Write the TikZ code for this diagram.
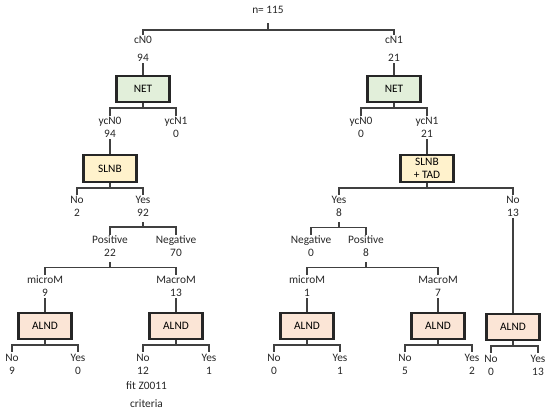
\documentclass[tikz,border=0pt]{standalone}
\usepackage{fontspec}
\setmainfont{Carlito}
\usepackage{tikz}
\usetikzlibrary{positioning}
\usepackage{xcolor}
\definecolor{netgreen}{HTML}{E2EFDA}
\definecolor{slnbyellow}{HTML}{FFF2CC}
\definecolor{alndpink}{HTML}{FBE5D6}
\definecolor{linegray}{HTML}{404040}

\begin{document}
\begin{tikzpicture}[
    x=0.03cm, y=-0.03cm,
    font=\fontsize{9.7}{11.2}\selectfont,
    count/.style={align=center, inner sep=1pt, text=black!85},
    box/.style={draw=black!85, line width=1.9pt, rectangle, align=center, minimum width=1.59cm, minimum height=0.78cm, inner sep=1pt},
    netbox/.style={box, fill=netgreen},
    slnbbox/.style={box, fill=slnbyellow, minimum height=0.81cm},
    alndbox/.style={box, fill=alndpink},
    link/.style={draw=linegray, line width=1.1pt}
  ]
    \useasboundingbox (0,0) rectangle (550,418);

    \node (root) [count] at (268,10) {n= 115};
    \node (cn0) [count] at (143,49) {cN0\\[4.2pt]94};
    \node (cn1) [count] at (394,49) {cN1\\[4.2pt]21};

    \node (net0) [netbox] at (143,89) {NET};
    \node (net1) [netbox] at (394,89) {NET};

    \node (ycn00) [count] at (110,127.5) {ycN0\\94};
    \node (ycn01) [count] at (176,127.5) {ycN1\\0};
    \node (ycn10) [count] at (361,127.5) {ycN0\\0};
    \node (ycn11) [count] at (427,127.5) {ycN1\\21};

    \node (slnb) [slnbbox] at (110,168.5) {SLNB};
    \node (slnbtad) [slnbbox] at (427,168.5) {SLNB\\+ TAD};

    \node (sno) [count] at (77,206.5) {No\\2};
    \node (syes) [count] at (143,206.5) {Yes\\92};
    \node (tyes) [count] at (339,206.5) {Yes\\8};
    \node (tno) [count] at (513,206.5) {No\\13};

    \node (spos) [count] at (110,246.5) {Positive\\22};
    \node (sneg) [count] at (176,246.5) {Negative\\70};
    \node (tneg) [count] at (311,246.5) {Negative\\0};
    \node (tpos) [count] at (366,246.5) {Positive\\8};

    \node (smicro) [count] at (45,286.5) {microM\\9};
    \node (smacro) [count] at (176,286.5) {MacroM\\13};
    \node (tmicro) [count] at (307,286.5) {microM\\1};
    \node (tmacro) [count] at (438,286.5) {MacroM\\7};

    \node (alnd1) [alndbox] at (45,326) {ALND};
    \node (alnd2) [alndbox] at (176,326) {ALND};
    \node (alnd3) [alndbox] at (307,326) {ALND};
    \node (alnd4) [alndbox] at (438,326) {ALND};
    \node (alnd5) [alndbox] at (513,327) {ALND};

    \node (no1) [count] at (12,364) {No\\9};
    \node (yes1) [count] at (78,364) {Yes\\0};
    \node (no2) [count] at (143,364) {No\\12};
    \node (yes2) [count] at (209,364) {Yes\\1};
    \node (no3) [count] at (274,364) {No\\0};
    \node (yes3) [count] at (340,364) {Yes\\1};
    \node (no4) [count] at (405,364) {No\\5};
    \node (yes4) [count] at (472,364) {Yes\\2};
    \node (no5) [count] at (491,365) {No\\0};
    \node (yes5) [count] at (538,365) {Yes\\13};

    \node (fit) [count, below=4pt of no2, xshift=3pt] {fit Z0011\\[4.2pt]criteria};

    \draw [link] (root.south) ++(0,8) -- ++(0,7) -| (cn0.north);
    \draw [link] (root.south) ++(0,15) -| (cn1.north);
    \draw [link] (cn0) -- (net0);
    \draw [link] (cn1) -- (net1);

    \draw [link] (net0.south) -- ++(0,5) -| (ycn00.north);
    \draw [link] (net0.south) ++(0,5) -| (ycn01.north);
    \draw [link] (net1.south) -- ++(0,5) -| (ycn10.north);
    \draw [link] (net1.south) ++(0,5) -| (ycn11.north);
    \draw [link] (ycn00) -- (slnb);
    \draw [link] (ycn11) -- (slnbtad);

    \draw [link] (slnb.south) -- ++(0,5) -| (sno.north);
    \draw [link] (slnb.south) ++(0,5) -| (syes.north);
    \draw [link] (slnbtad.south) -- ++(0,5) -| (tyes.north);
    \draw [link] (slnbtad.south) ++(0,5) -| (tno.north);

    \draw [link] (syes.south) ++(0,4) -- ++(0,5) -| (spos.north);
    \draw [link] (syes.south) ++(0,9) -| (sneg.north);
    \draw [link] (tyes.south) ++(0,4) -- ++(0,5) -| (tneg.north);
    \draw [link] (tyes.south) ++(0,9) -| (tpos.north);

    \draw [link] (spos.south) ++(0,4) -- ++(0,5) -| (smicro.north);
    \draw [link] (spos.south) ++(0,9) -| (smacro.north);
    \draw [link] (tpos.south) ++(0,4) -- ++(0,5) -| (tmicro.north);
    \draw [link] (tpos.south) ++(0,9) -| (tmacro.north);

    \draw [link] (smicro) -- (alnd1);
    \draw [link] (smacro) -- (alnd2);
    \draw [link] (tmicro) -- (alnd3);
    \draw [link] (tmacro) -- (alnd4);
    \draw [link] (tno) -- (alnd5);

    \draw [link] (alnd1.south) -- ++(0,5) -| (no1.north);
    \draw [link] (alnd1.south) ++(0,5) -| (yes1.north);
    \draw [link] (alnd2.south) -- ++(0,5) -| (no2.north);
    \draw [link] (alnd2.south) ++(0,5) -| (yes2.north);
    \draw [link] (alnd3.south) -- ++(0,5) -| (no3.north);
    \draw [link] (alnd3.south) ++(0,5) -| (yes3.north);
    \draw [link] (alnd4.south) -- ++(0,5) -| (no4.north);
    \draw [link] (alnd4.south) ++(0,5) -| (yes4.north);
    \draw [link] (alnd5.south) -- ++(0,5) -| (no5.north);
    \draw [link] (alnd5.south) ++(0,5) -| (yes5.north);
  \end{tikzpicture}
\end{document}
